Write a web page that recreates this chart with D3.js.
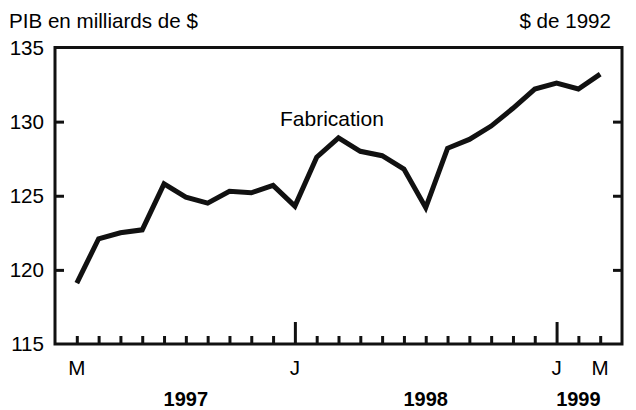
<!DOCTYPE html>
<html>
<head>
<meta charset="utf-8">
<script src="https://cdn.jsdelivr.net/npm/d3@7/dist/d3.min.js"></script>
<style>
  html, body { margin: 0; padding: 0; background: #fff; }
  svg { display: block; font-family: "Liberation Sans", Arial, sans-serif; }
</style>
</head>
<body>
<svg id="chart" width="636" height="410"></svg>
<script>
// ---- data ----
const months = ["1997-03","1997-04","1997-05","1997-06","1997-07","1997-08","1997-09","1997-10","1997-11","1997-12",
                "1998-01","1998-02","1998-03","1998-04","1998-05","1998-06","1998-07","1998-08","1998-09","1998-10","1998-11","1998-12",
                "1999-01","1999-02","1999-03"];
const values = [119.1,122.1,122.5,122.7,125.8,124.9,124.5,125.3,125.2,125.7,
                124.3,127.6,128.9,128.0,127.7,126.8,124.2,128.2,128.8,129.7,130.9,132.2,
                132.6,132.2,133.2];
const yTicks = [115,120,125,130,135];
const monthLabels = [{m:"1997-03", t:"M"},{m:"1998-01", t:"J"},{m:"1999-01", t:"J"},{m:"1999-03", t:"M"}];
const yearLabels = [{year:"1997", from:"1997-03", to:"1998-01"},
                    {year:"1998", from:"1998-01", to:"1999-01"},
                    {year:"1999", from:"1999-01", to:"1999-03"}];
const seriesName = "Fabrication";
const title = "PIB en milliards de $";
const unitNote = "$ de 1992";

// ---- layout ----
const svg = d3.select("#chart");
const L = 55, R = 622, T = 47.5, B = 344;
const idx = d3.range(months.length);
const x = d3.scaleLinear().domain([-1, months.length]).range([L, R]);
const y = d3.scaleLinear().domain([115, 135]).range([B, T]);
const xi = m => x(months.indexOf(m));
const FS = 20.6;

// titles
svg.append("text").attr("x", 9).attr("y", 28).attr("font-size", FS).text(title);
svg.append("text").attr("x", 611).attr("y", 28).attr("font-size", FS).attr("text-anchor", "end").text(unitNote);

// y tick labels
svg.append("g").selectAll("text").data(yTicks).join("text")
  .attr("x", 44).attr("y", d => y(d) + 7).attr("text-anchor", "end")
  .attr("font-size", FS).text(d => d);

// left and right y ticks (inward)
const yAxisL = d3.axisRight(y).tickValues([120,125,130]).tickSize(9).tickFormat("");
const gL = svg.append("g").attr("transform", `translate(${L},0)`).call(yAxisL);
const yAxisR = d3.axisLeft(y).tickValues([120,125,130]).tickSize(9).tickFormat("");
const gR = svg.append("g").attr("transform", `translate(${R},0)`).call(yAxisR);
[gL, gR].forEach(g => {
  g.select(".domain").remove();
  g.selectAll(".tick line").attr("stroke", "#111").attr("stroke-width", 3);
});

// x ticks (inward), January longer
const xAxis = d3.axisBottom(x).tickValues(idx).tickSize(-8).tickFormat("");
const gX = svg.append("g").attr("transform", `translate(0,${B})`).call(xAxis);
gX.select(".domain").remove();
gX.selectAll(".tick line")
  .attr("stroke", "#111").attr("stroke-width", 3)
  .attr("y2", d => months[d].endsWith("-01") ? -22 : -8);

// frame
svg.append("rect").attr("x", L).attr("y", T).attr("width", R - L).attr("height", B - T)
  .attr("fill", "none").attr("stroke", "#111").attr("stroke-width", 3);

// month labels
svg.append("g").selectAll("text").data(monthLabels).join("text")
  .attr("x", d => xi(d.m)).attr("y", 375).attr("text-anchor", "middle")
  .attr("font-size", FS).text(d => d.t);

// year labels
svg.append("g").selectAll("text").data(yearLabels).join("text")
  .attr("x", d => (xi(d.from) + xi(d.to)) / 2).attr("y", 406).attr("text-anchor", "middle")
  .attr("font-size", 20).attr("font-weight", "bold").text(d => d.year);

// line
const line = d3.line().x((d, i) => x(i)).y(d => y(d));
svg.append("path").datum(values).attr("d", line)
  .attr("fill", "none").attr("stroke", "#111").attr("stroke-width", 5)
  .attr("stroke-linejoin", "miter").attr("stroke-linecap", "butt");

// series label
svg.append("text").attr("x", x(11.7)).attr("y", y(129.7)).attr("text-anchor", "middle")
  .attr("font-size", 21).text(seriesName);
</script>
</body>
</html>
